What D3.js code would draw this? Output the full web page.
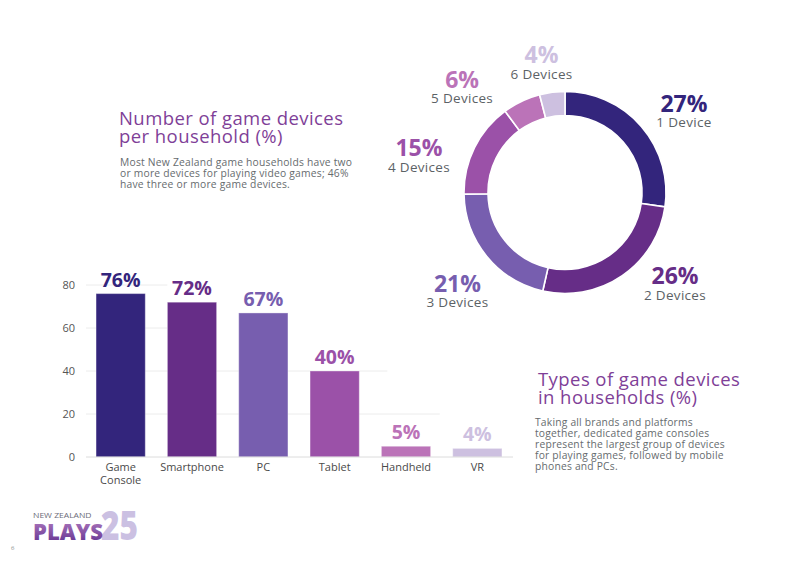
<!DOCTYPE html>
<html>
<head>
<meta charset="utf-8">
<script src="https://cdn.jsdelivr.net/npm/d3@7"></script>
<style>
  html, body { margin: 0; padding: 0; background: #fff; }
  svg { display: block; font-family: "Open Sans", "DejaVu Sans", sans-serif; }
</style>
</head>
<body>
<svg id="chart" width="800" height="565"></svg>
<script>
// ---------- DATA ----------
const donutCategories = ["1 Device", "2 Devices", "3 Devices", "4 Devices", "5 Devices", "6 Devices"];
const donutValues = [27, 26, 21, 15, 6, 4];

const barCategories = ["Game Console", "Smartphone", "PC", "Tablet", "Handheld", "VR"];
const barValues = [76, 72, 67, 40, 5, 4];

const yTicks = [0, 20, 40, 60, 80];

// ---------- STYLE / LAYOUT ----------
const palette = ["#33257c", "#662d87", "#775eaf", "#9b51a8", "#bb73b8", "#cdc0e0"];
const titleColor = "#7f3f98";
const textGray = "#666b6e";
const labelGray = "#5c6266";

// label placement (angle nudge in degrees from slice middle, radius from centre)
const donutLabelNudge = [6.7, -15.7, -3.6, -12.4, -19.1, -3.0];
const donutLabelRadius = [143.8, 143.1, 146.3, 150.5, 146.7, 131.6];
// which category each gridline stops at (rest hidden behind labels in the original)
const gridStop = {20: ["VR", -13], 40: ["Handheld", 6], 60: ["Smartphone", 0], 80: ["Smartphone", 0]};

const svg = d3.select("#chart");
svg.append("rect").attr("width", 800).attr("height", 565).attr("fill", "#fff");

// ---------- DONUT ----------
const cx = 565, cy = 192.5, rOuter = 101, rInner = 77;
const pie = d3.pie().sort(null).value(d => d)(donutValues);
const arc = d3.arc().innerRadius(rInner).outerRadius(rOuter);
const gD = svg.append("g").attr("transform", `translate(${cx},${cy})`);
gD.selectAll("path").data(pie).join("path")
  .attr("d", arc)
  .attr("fill", (d, i) => palette[i])
  .attr("stroke", "#fff").attr("stroke-width", 1.6);

const lbl = gD.selectAll("g.lbl").data(pie).join("g").attr("class", "lbl")
  .attr("transform", (d, i) => {
    const a = (d.startAngle + d.endAngle) / 2 + donutLabelNudge[i] * Math.PI / 180;
    const r = donutLabelRadius[i];
    return `translate(${r * Math.sin(a)},${-r * Math.cos(a)})`;
  });
lbl.append("text")
  .attr("text-anchor", "middle")
  .attr("font-size", 23).attr("font-weight", 700)
  .attr("fill", (d, i) => palette[i])
  .text(d => d.data + "%");
lbl.append("text")
  .attr("text-anchor", "middle")
  .attr("y", 15.5)
  .attr("font-size", 13.5).attr("letter-spacing", 0.3)
  .attr("fill", labelGray)
  .text((d, i) => donutCategories[i]);

// ---------- TITLES ----------
function block(x, y, lines, size, color, lh, ls) {
  const t = svg.append("text").attr("x", x).attr("y", y)
    .attr("font-size", size).attr("fill", color).attr("letter-spacing", ls);
  lines.forEach((l, i) => t.append("tspan").attr("x", x).attr("dy", i ? lh : 0).text(l));
}
block(119, 124.5, ["Number of game devices", "per household (%)"], 18.5, titleColor, 18.5, 0.43);
block(120, 165.7, ["Most New Zealand game households have two",
                   "or more devices for playing video games; 46%",
                   "have three or more game devices."], 10.3, textGray, 10.9, 0.22);
block(538, 385.5, ["Types of game devices", "in households (%)"], 18.5, titleColor, 18.5, 0.43);
block(535, 425.7, ["Taking all brands and platforms",
                   "together, dedicated game consoles",
                   "represent the largest group of devices",
                   "for playing games, followed by mobile",
                   "phones and PCs."], 10.3, textGray, 11.1, 0.2);

// ---------- BAR CHART ----------
const x = d3.scaleBand().domain(barCategories).range([85, 513])
  .paddingInner(0.31).paddingOuter(0.155);
const y = d3.scaleLinear().domain([0, 80]).range([457, 285]);

const gB = svg.append("g");
// gridlines
gB.selectAll("line.grid").data(yTicks.filter(t => t > 0)).join("line")
  .attr("class", "grid")
  .attr("x1", 86)
  .attr("x2", t => x(gridStop[t][0]) + gridStop[t][1])
  .attr("y1", t => y(t)).attr("y2", t => y(t))
  .attr("stroke", "#ececec").attr("stroke-width", 1);

// y axis labels
const yAxis = d3.axisLeft(y).tickValues(yTicks).tickSize(0).tickPadding(0);
const gy = svg.append("g").attr("transform", "translate(75,0)").call(yAxis);
gy.select(".domain").remove();
gy.selectAll("text").attr("font-family", "Open Sans").attr("font-size", 11).attr("fill", "#555");

// bars
gB.selectAll("rect.bar").data(barValues).join("rect")
  .attr("class", "bar")
  .attr("x", (d, i) => x(barCategories[i]))
  .attr("width", x.bandwidth())
  .attr("y", d => y(d))
  .attr("height", d => y(0) - y(d))
  .attr("fill", (d, i) => palette[i])
  .attr("stroke", "rgba(255,255,255,0.35)").attr("stroke-width", 1);

// baseline
const xAxis = d3.axisBottom(x).tickSize(0).tickPadding(0);
const gx = svg.append("g").attr("transform", `translate(0,${y(0)})`).call(xAxis);
gx.select(".domain").attr("d", "M86,0H513").attr("stroke", "#dcdcdc");
gx.selectAll(".tick text").each(function(d) {
  const t = d3.select(this);
  t.text(null).attr("font-family", "Open Sans").attr("font-size", 11).attr("fill", "#4a4a4a")
   .attr("y", 14).attr("dy", 0);
  d.split(" ").forEach((w, i) => t.append("tspan").attr("x", 0).attr("dy", i ? 12.5 : 0).text(w));
});

// value labels
gB.selectAll("text.val").data(barValues).join("text")
  .attr("class", "val")
  .attr("x", (d, i) => x(barCategories[i]) + x.bandwidth() / 2)
  .attr("y", d => y(d) - 7)
  .attr("text-anchor", "middle")
  .attr("font-size", 19.5).attr("font-weight", 700)
  .attr("fill", (d, i) => palette[i])
  .text(d => d + "%");

// ---------- LOGO ----------
const defs = svg.append("defs");
const grad = defs.append("linearGradient").attr("id", "plays").attr("x1", 0).attr("y1", 0).attr("x2", 0).attr("y2", 1);
grad.append("stop").attr("offset", "0%").attr("stop-color", "#bd86c6");
grad.append("stop").attr("offset", "100%").attr("stop-color", "#5a2b8c");
svg.append("text").attr("x", 101).attr("y", 539.5)
  .attr("font-size", 41).attr("font-weight", 800).attr("fill", "#cbc0e2")
  .attr("textLength", 37).attr("lengthAdjust", "spacingAndGlyphs").text("25");
svg.append("text").attr("x", 33).attr("y", 539.5)
  .attr("font-size", 23.5).attr("font-weight", 800).attr("fill", "url(#plays)")
  .attr("textLength", 70).attr("lengthAdjust", "spacingAndGlyphs").text("PLAYS");
svg.append("text").attr("x", 33).attr("y", 517.5)
  .attr("font-size", 6.8).attr("fill", "#6d6d7a")
  .attr("textLength", 58.5).attr("lengthAdjust", "spacingAndGlyphs").text("NEW ZEALAND");
svg.append("text").attr("x", 11).attr("y", 550)
  .attr("font-size", 6).attr("fill", "#888").text("6");
</script>
</body>
</html>
